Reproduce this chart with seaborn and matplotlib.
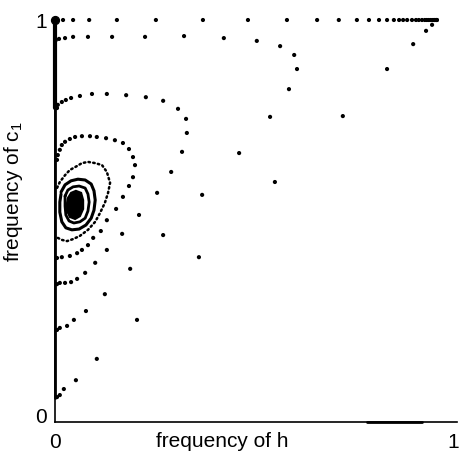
import matplotlib
matplotlib.use("Agg")
import matplotlib.pyplot as plt
import seaborn as sns
import pandas as pd

# ---------------- data ----------------
# trajectory running along c1 = 1 towards the attractor
traj_a_h = [0.020, 0.045, 0.085, 0.154, 0.251, 0.368, 0.480, 0.577, 0.652, 0.706,
            0.751, 0.781, 0.806, 0.826, 0.843, 0.856, 0.866, 0.876, 0.888, 0.898,
            0.905, 0.913, 0.920, 0.925, 0.930, 0.935, 0.940, 0.943, 0.945, 0.948, 0.950]
traj_a_c = [1.0] * 31

# diagonal trajectory from the bottom towards the attractor
traj_e_h = [0.005, 0.012, 0.022, 0.052, 0.104, 0.204, 0.358, 0.547, 0.716, 0.826,
            0.891, 0.923, 0.938, 0.950]
traj_e_c = [0.062, 0.067, 0.082, 0.104, 0.157, 0.254, 0.410, 0.597, 0.761, 0.878,
            0.940, 0.973, 0.988, 1.0]

# large loop returning to h = 0 at c1 ~ 0.95
traj_f_h = [0.005, 0.012, 0.030, 0.047, 0.077, 0.124, 0.187, 0.269, 0.366, 0.458,
            0.535, 0.582, 0.602, 0.595, 0.560, 0.502, 0.420, 0.321, 0.224, 0.142,
            0.082, 0.045, 0.025, 0.010, 0.002]
traj_f_c = [0.229, 0.234, 0.239, 0.254, 0.276, 0.318, 0.381, 0.465, 0.565, 0.669,
            0.759, 0.828, 0.878, 0.913, 0.935, 0.948, 0.955, 0.960, 0.958, 0.958,
            0.958, 0.958, 0.955, 0.953, 0.950]

# loop from c1 ~ 0.35 back to c1 ~ 0.78
traj_d_h = [0.005, 0.007, 0.017, 0.027, 0.040, 0.062, 0.092, 0.129, 0.177, 0.226,
            0.269, 0.306, 0.326, 0.328, 0.316, 0.289, 0.254, 0.209, 0.167, 0.129,
            0.100, 0.075, 0.055, 0.040, 0.025, 0.012, 0.005]
traj_d_c = [0.781, 0.789, 0.796, 0.801, 0.806, 0.811, 0.816, 0.816, 0.813, 0.808,
            0.799, 0.779, 0.754, 0.719, 0.672, 0.622, 0.570, 0.515, 0.468, 0.428,
            0.396, 0.371, 0.356, 0.348, 0.346, 0.346, 0.343]

# loop from c1 ~ 0.41 back to c1 ~ 0.65
traj_i_h = [0.005, 0.017, 0.037, 0.055, 0.067, 0.082, 0.095, 0.114, 0.129, 0.152,
            0.169, 0.184, 0.194, 0.199, 0.194, 0.184, 0.169, 0.149, 0.127, 0.104,
            0.087, 0.067, 0.050, 0.037, 0.025, 0.017, 0.012, 0.007, 0.005]
traj_i_c = [0.408, 0.410, 0.413, 0.420, 0.428, 0.440, 0.458, 0.475, 0.502, 0.530,
            0.560, 0.587, 0.609, 0.639, 0.659, 0.679, 0.694, 0.701, 0.706, 0.709,
            0.711, 0.711, 0.709, 0.704, 0.697, 0.689, 0.677, 0.664, 0.652]

# densely sampled loop (c1 ~ 0.46 -> 0.58)
traj_j_h = [0.007, 0.017, 0.030, 0.045, 0.062, 0.082, 0.100, 0.112, 0.124, 0.132,
            0.137, 0.129, 0.117, 0.100, 0.082, 0.067, 0.050, 0.037, 0.025, 0.012, 0.005]
traj_j_c = [0.458, 0.453, 0.450, 0.455, 0.463, 0.478, 0.498, 0.520, 0.545, 0.570,
            0.595, 0.622, 0.639, 0.644, 0.647, 0.644, 0.634, 0.627, 0.614, 0.597, 0.582]

# inner loops around the focus
loop_k_h = [0.015, 0.025, 0.040, 0.057, 0.075, 0.090, 0.097, 0.100, 0.097, 0.090,
            0.077, 0.060, 0.042, 0.027, 0.017, 0.012, 0.012, 0.015]
loop_k_c = [0.572, 0.590, 0.600, 0.604, 0.602, 0.592, 0.575, 0.552, 0.527, 0.507,
            0.490, 0.480, 0.478, 0.483, 0.498, 0.522, 0.547, 0.567]
loop_l_h = [0.025, 0.032, 0.045, 0.060, 0.075, 0.082, 0.085, 0.082, 0.075, 0.062,
            0.047, 0.035, 0.027, 0.025, 0.025, 0.025]
loop_l_c = [0.562, 0.577, 0.585, 0.587, 0.582, 0.567, 0.547, 0.525, 0.507, 0.498,
            0.495, 0.500, 0.515, 0.537, 0.557, 0.562]
focus_h = [0.032, 0.040, 0.052, 0.065, 0.070, 0.070, 0.062, 0.050, 0.037, 0.030, 0.030]
focus_c = [0.557, 0.570, 0.575, 0.570, 0.552, 0.530, 0.512, 0.505, 0.510, 0.525, 0.545]

# trajectories creeping along the h = 0 edge
edge_upper_c = [0.78, 1.0]
edge_lower_c = [0.06, 0.78]
edge_h = [0.0, 0.0]
# short heavy stretch on the c1 = 0 edge
bottom_h = [0.776, 0.913]
bottom_c = [0.0, 0.0]
# stable point at h = 0, c1 = 1
fixed_h = [0.0]
fixed_c = [1.0]

tick_labels = ["0", "1"]

# ---------------- figure ----------------
sns.set_theme(style="white")
plt.rcParams["font.family"] = ["Liberation Sans", "DejaVu Sans"]
plt.rcParams["mathtext.default"] = "regular"

fig = plt.figure(figsize=(4.6, 4.51), dpi=100)
ax = fig.add_axes([55 / 460, 29 / 451, 402 / 460, 402 / 451])

dots = pd.concat([
    pd.DataFrame({"h": traj_a_h, "c1": traj_a_c, "traj": "A"}),
    pd.DataFrame({"h": traj_e_h, "c1": traj_e_c, "traj": "E"}),
    pd.DataFrame({"h": traj_f_h, "c1": traj_f_c, "traj": "F"}),
    pd.DataFrame({"h": traj_d_h, "c1": traj_d_c, "traj": "D"}),
    pd.DataFrame({"h": traj_i_h, "c1": traj_i_c, "traj": "I"}),
], ignore_index=True)

sns.scatterplot(data=dots, x="h", y="c1", color="black", s=9, edgecolor="none",
                legend=False, ax=ax, clip_on=False, zorder=3)

sns.lineplot(x=traj_j_h, y=traj_j_c, sort=False, estimator=None, color="black",
             lw=1.8, linestyle=(0, (0.6, 1.3)), dash_capstyle="round", ax=ax)
sns.lineplot(x=loop_k_h, y=loop_k_c, sort=False, estimator=None, color="black",
             lw=2.2, ax=ax)
sns.lineplot(x=loop_l_h, y=loop_l_c, sort=False, estimator=None, color="black",
             lw=2.0, ax=ax)
ax.fill(focus_h, focus_c, color="black", lw=1.5, edgecolor="black")

sns.lineplot(x=edge_h, y=edge_upper_c, sort=False, estimator=None, color="black",
             lw=3.0, ax=ax, clip_on=False)
sns.lineplot(x=edge_h, y=edge_lower_c, sort=False, estimator=None, color="black",
             lw=2.0, ax=ax, clip_on=False)
sns.lineplot(x=bottom_h, y=bottom_c, sort=False, estimator=None, color="black",
             lw=2.0, ax=ax, clip_on=False)
ax.scatter(fixed_h, fixed_c, s=32, color="black", zorder=4, clip_on=False)

ax.set_xlim(0, 1)
ax.set_ylim(0, 1)
for side in ["top", "right"]:
    ax.spines[side].set_visible(False)
for side in ["left", "bottom"]:
    ax.spines[side].set_color("black")
    ax.spines[side].set_linewidth(1.2)

ax.set_xticks([0, 0.99])
ax.set_xticklabels(tick_labels)
ax.set_yticks([0.015, 1])
ax.set_yticklabels(tick_labels)
ax.tick_params(axis="x", length=0, labelsize=15, pad=8, colors="black")
ax.tick_params(axis="y", length=0, labelsize=15, pad=6, colors="black")

ax.set_xlabel("frequency of h", fontsize=15, color="black")
ax.xaxis.set_label_coords(0.415, -0.025)
ax.set_ylabel("frequency of c$_1$", fontsize=15, color="black")
ax.yaxis.set_label_coords(-0.075, 0.572)

fig.savefig("out.png", dpi=100)
